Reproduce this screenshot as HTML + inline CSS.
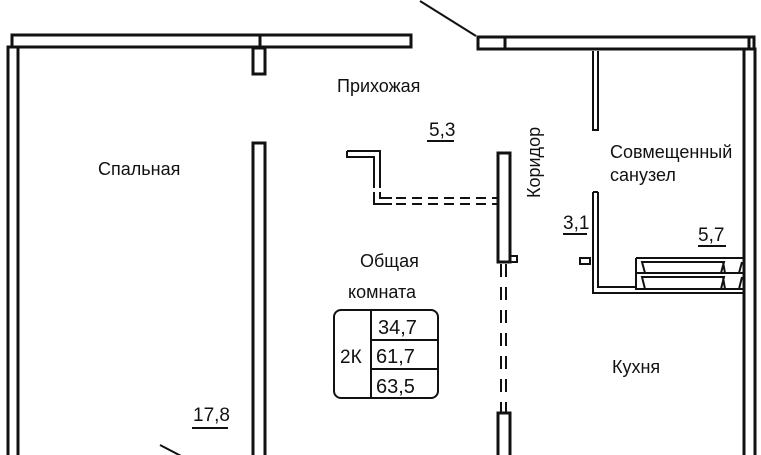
<!DOCTYPE html>
<html><head><meta charset="utf-8"><style>
html,body{margin:0;padding:0;background:#fff;width:761px;height:455px;overflow:hidden}
text{font-family:"Liberation Sans Narrow","Liberation Sans",sans-serif;fill:#111}
</style></head><body>
<svg width="761" height="455" viewBox="0 0 761 455" xmlns="http://www.w3.org/2000/svg">
<g fill="none" stroke="#111" stroke-width="3">
<rect x="12" y="35" width="399" height="12"/>
<line x1="260" y1="35" x2="260" y2="47"/>
<rect x="8" y="47" width="10" height="420"/>
<rect x="253" y="48" width="12" height="26"/>
<rect x="253" y="143" width="12" height="320"/>
<rect x="478" y="37" width="276" height="12"/>
<line x1="505" y1="37" x2="505" y2="49"/>
<line x1="749" y1="37" x2="749" y2="49"/>
<rect x="744" y="49" width="11" height="420"/>
<line x1="420" y1="1" x2="476" y2="36" stroke-width="2"/>
<line x1="160" y1="445" x2="185" y2="458" stroke-width="2"/>
<rect x="498" y="153" width="12" height="109"/>
<rect x="510" y="256" width="7" height="6" stroke-width="2"/>
<rect x="498" y="413" width="12" height="50"/>
</g>
<g stroke="#111" stroke-width="2" fill="none">
<path d="M593 51 V130 H598 V51"/>
<path d="M593 192 V293 H744 M598 192 V287 H636"/>
<line x1="593" y1="192" x2="598" y2="192"/>
<rect x="580" y="258" width="10" height="6"/>
<path d="M636 258 H744 M636 258 V290 M636 273 H744 M636 289 H744"/>
<path d="M642 262 L645 273 H721 L724 262 Z M723 262 L725 273 H739 L742 262 M642 277 L645 289 H721 L724 277 Z M723 277 L725 289 H739 L742 277"/>
<g stroke-dasharray="13,10">
<line x1="501" y1="264" x2="501" y2="412"/>
<line x1="506" y1="264" x2="506" y2="412"/>
</g>
<g stroke-dasharray="10,6">
<line x1="380" y1="198" x2="497" y2="198"/>
<line x1="380" y1="204" x2="497" y2="204"/>
</g>
<path d="M347 151 H380 V188 M347 151 V157 H374 V188"/>
<path d="M374 192 V204 H392 M380 192 V198 H392"/>
<rect x="334" y="310" width="104" height="88" rx="7"/>
<line x1="371" y1="310" x2="371" y2="398"/>
<line x1="371" y1="340" x2="438" y2="340"/>
<line x1="371" y1="369" x2="438" y2="369"/>
<line x1="427" y1="141" x2="454" y2="141"/>
<line x1="563" y1="234" x2="587" y2="234"/>
<line x1="698" y1="246" x2="726" y2="246"/>
<line x1="192" y1="428" x2="228" y2="428"/>
</g>
<g font-size="19">
<text x="337" y="92" font-size="18">Прихожая</text>
<text x="429" y="136">5,3</text>
<text x="98" y="175" font-size="18">Спальная</text>
<text x="610" y="158" font-size="18">Совмещенный</text>
<text x="610" y="181" font-size="18">санузел</text>
<text x="563" y="229">3,1</text>
<text x="698" y="241">5,7</text>
<text x="360" y="267" font-size="18">Общая</text>
<text x="348" y="298" font-size="18">комната</text>
<text x="340" y="363">2К</text>
<text x="378" y="334" font-size="20">34,7</text>
<text x="376" y="363" font-size="20">61,7</text>
<text x="376" y="393" font-size="20">63,5</text>
<text x="612" y="373" font-size="18">Кухня</text>
<text x="193" y="421">17,8</text>
<text transform="translate(540,198) rotate(-90)" font-size="18">Коридор</text>
</g>
</svg>
</body></html>
